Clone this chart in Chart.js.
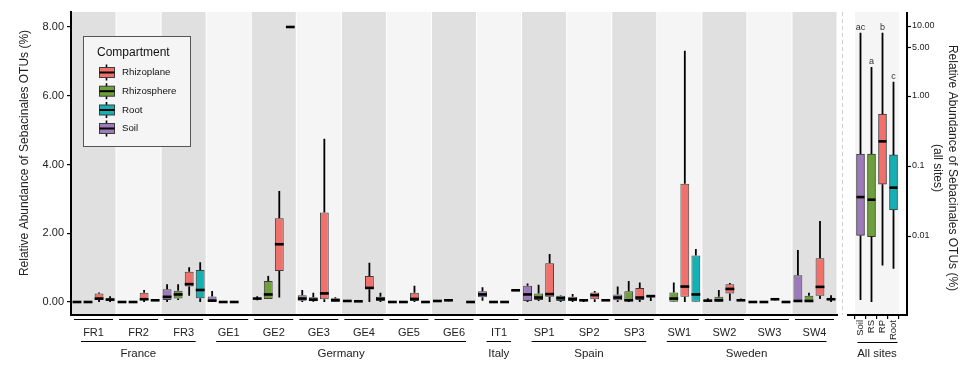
<!DOCTYPE html>
<html>
<head>
<meta charset="utf-8">
<script src="https://cdn.jsdelivr.net/npm/chart.js@4.4.0/dist/chart.umd.min.js"></script>
<style>
  body { margin: 0; background: #fff; }
  #wrap { position: relative; width: 979px; height: 371px; }
  canvas { position: absolute; top: 0; }
  #main { left: 0; }
  #all { left: 845px; }
</style>
</head>
<body>
<div id="wrap">
  <canvas id="main" width="845" height="371"></canvas>
  <canvas id="all" width="134" height="371"></canvas>
</div>
<script>
// sites and countries
var sites = ['FR1','FR2','FR3','GE1','GE2','GE3','GE4','GE5','GE6','IT1','SP1','SP2','SP3','SW1','SW2','SW3','SW4'];
var countryNames = ['France','Germany','Italy','Spain','Sweden'];
var countryFirst = [0, 3, 9, 10, 13];
var countryLast  = [2, 8, 9, 12, 16];

// box stats per site: [min, q1, median, q3, max]
var soil = [
  [0,0,0,0,0], [0,0,0,0,0], [0,0.06,0.15,0.37,0.52],
  [0,0.01,0.04,0.16,0.32], [0.05,0.09,0.1,0.11,0.17], [0,0.04,0.1,0.2,0.35],
  [0.01,0.02,0.03,0.04,0.06], [0,0,0,0,0], [0.01,0.02,0.03,0.04,0.06],
  [0.04,0.14,0.22,0.31,0.43],
  [0,0.03,0.22,0.47,0.54], [0,0.03,0.08,0.15,0.23], [0,0.05,0.13,0.22,0.45],
  null, [0.01,0.02,0.04,0.06,0.11], [0,0,0,0,0], [0,0,0.03,0.78,1.51]
];
var rhizosphere = [
  [0,0,0,0,0], [0,0,0,0,0], [0.06,0.1,0.22,0.33,0.52],
  [0,0,0,0,0], [0.09,0.09,0.22,0.61,0.76], [0,0.02,0.07,0.14,0.27],
  [0,0.01,0.02,0.03,0.04], [0,0,0,0,0], [0.02,0.04,0.05,0.06,0.08],
  [0,0,0,0,0],
  [0.03,0.06,0.13,0.25,0.5], [0,0.04,0.05,0.06,0.08], [0,0.03,0.05,0.31,0.61],
  [0,0.01,0.1,0.28,0.57], [0,0.01,0.05,0.15,0.35], [0,0,0,0,0], [0,0,0.03,0.18,0.27]
];
var rhizoplane = [
  [0,0.06,0.1,0.25,0.28], [0,0.06,0.08,0.27,0.35], [0.18,0.45,0.52,0.88,1.01],
  [0,0,0,0,0], [0.13,0.9,1.68,2.44,3.23], [0,0.08,0.25,2.6,4.75],
  [0,0.37,0.41,0.76,1.14], [0,0.03,0.09,0.27,0.47], null,
  [0,0,0,0,0],
  [0,0.15,0.23,1.13,1.4], [0,0.08,0.2,0.28,0.32], [0,0.06,0.13,0.41,0.57],
  [0,0.15,0.45,3.44,7.31], [0.04,0.25,0.38,0.52,0.55], [0.05,0.07,0.08,0.09,0.11], [0.09,0.18,0.44,1.27,2.36]
];
var root = [
  [0,0.04,0.07,0.11,0.17], [0.04,0.05,0.05,0.05,0.06], [0,0.11,0.35,0.93,1.16],
  null, [8,8,8,8,8], [0,0.01,0.05,0.11,0.14],
  [0,0.03,0.09,0.15,0.27], [0,0,0,0,0], [0,0,0,0,0],
  [0.34,0.34,0.34,0.34,0.34],
  [0,0.03,0.11,0.18,0.2], [0.05,0.05,0.05,0.05,0.05], [0.03,0.14,0.17,0.21,0.21],
  [0,0.01,0.22,1.35,1.54], [0.04,0.05,0.05,0.06,0.1], [0,0,0,0,0], [0,0.06,0.08,0.1,0.2]
];
var yTicks = [0, 2, 4, 6, 8];

// all sites panel (log scale)
var allLabels = ['Soil','RS','RP','Root'];
var allStats = [
  [0.00122, 0.0102, 0.036, 0.148, 8.0],
  [0.00114, 0.0098, 0.033, 0.148, 2.6],
  [0.0038, 0.055, 0.225, 0.55, 8.0],
  [0.0034, 0.0235, 0.049, 0.144, 1.6]
];
var allLetters = ['ac','a','b','c'];
var logTicks = [0.01, 0.1, 1, 5, 10];
var logTickLabels = ['0.01', '0.1', '1.00', '5.00', '10.00'];

var compNames = ['Soil','Rhizosphere','Rhizoplane','Root'];
var compColors = ['#9d7bba', '#6d9f3a', '#f0716b', '#13b1b5'];
var compStats = [soil, rhizosphere, rhizoplane, root];

var FONT = '"Liberation Sans", Arial, Helvetica, sans-serif';
Chart.defaults.font.family = FONT;
Chart.defaults.color = '#222';

// whiskers + median lines on top of the floating bars
function boxPlugin(statsList) {
  return {
    id: 'boxes',
    afterDatasetsDraw: function(chart) {
      var ctx = chart.ctx, y = chart.scales.y;
      ctx.save();
      ctx.strokeStyle = '#000';
      statsList.forEach(function(stats, i) {
        var meta = chart.getDatasetMeta(i);
        stats.forEach(function(s, j) {
          if (!s) return;
          var bar = meta.data[j];
          var x = bar.x, w = bar.width;
          ctx.lineWidth = 1.8;
          ctx.beginPath();
          ctx.moveTo(x, y.getPixelForValue(s[3])); ctx.lineTo(x, y.getPixelForValue(s[4]));
          ctx.moveTo(x, y.getPixelForValue(s[0])); ctx.lineTo(x, y.getPixelForValue(s[1]));
          ctx.stroke();
          var ym = y.getPixelForValue(s[2]);
          ctx.lineWidth = 2.6;
          ctx.beginPath();
          ctx.moveTo(x - w / 2, ym); ctx.lineTo(x + w / 2, ym);
          ctx.stroke();
        });
      });
      ctx.restore();
    }
  };
}

var mainDecor = {
  id: 'mainDecor',
  beforeDraw: function(chart) {
    var ctx = chart.ctx, a = chart.chartArea, x = chart.scales.x;
    ctx.save();
    ctx.fillStyle = '#fff';
    ctx.fillRect(0, 0, chart.width, chart.height);
    var half = (x.getPixelForValue(1) - x.getPixelForValue(0)) / 2;
    sites.forEach(function(s, i) {
      var c = x.getPixelForValue(i);
      ctx.fillStyle = i % 2 ? '#f4f5f4' : '#dfe0df';
      ctx.fillRect(c - half + 0.5, a.top, 2 * half - 1, a.bottom - a.top);
    });
    ctx.restore();
  },
  afterDraw: function(chart) {
    var ctx = chart.ctx, a = chart.chartArea, x = chart.scales.x;
    ctx.save();
    // site strip lines
    ctx.strokeStyle = '#000';
    ctx.lineWidth = 1;
    sites.forEach(function(s, i) {
      var c = x.getPixelForValue(i);
      ctx.beginPath(); ctx.moveTo(c - 19.5, 319.5); ctx.lineTo(c + 19.5, 319.5); ctx.stroke();
    });
    // country lines + names
    ctx.font = '11.5px ' + FONT;
    ctx.fillStyle = '#222';
    ctx.textAlign = 'center';
    ctx.textBaseline = 'middle';
    countryNames.forEach(function(n, k) {
      var x0 = x.getPixelForValue(countryFirst[k]) - 12.5;
      var x1 = x.getPixelForValue(countryLast[k]) + 12;
      ctx.beginPath(); ctx.moveTo(x0, 341.5); ctx.lineTo(x1, 341.5); ctx.stroke();
      ctx.fillText(n, (x0 + x1) / 2, 354);
    });
    // left axis title
    ctx.save();
    ctx.translate(25, 153);
    ctx.rotate(-Math.PI / 2);
    ctx.font = '12px ' + FONT;
    ctx.fillText('Relative Abundance of Sebacinales OTUs (%)', 0, 0);
    ctx.restore();
    // dashed separator
    ctx.strokeStyle = '#cfcfcf';
    ctx.setLineDash([4, 3]);
    ctx.beginPath(); ctx.moveTo(842.5, a.top); ctx.lineTo(842.5, a.bottom); ctx.stroke();
    ctx.setLineDash([]);
    // legend
    ctx.fillStyle = '#f4f5f4';
    ctx.fillRect(83.5, 36.5, 107, 110);
    ctx.strokeStyle = '#555';
    ctx.lineWidth = 1;
    ctx.strokeRect(83.5, 36.5, 107, 110);
    ctx.fillStyle = '#111';
    ctx.textAlign = 'left';
    ctx.font = '12px ' + FONT;
    ctx.fillText('Compartment', 97, 53);
    var order = [2, 1, 3, 0];
    var ys = [72.5, 91.2, 110, 128.5];
    ctx.font = '9.7px ' + FONT;
    order.forEach(function(ci, k) {
      var ly = ys[k];
      ctx.strokeStyle = '#000';
      ctx.lineWidth = 1.6;
      ctx.beginPath(); ctx.moveTo(106.5, ly - 8); ctx.lineTo(106.5, ly + 8); ctx.stroke();
      ctx.fillStyle = compColors[ci];
      ctx.fillRect(99.5, ly - 5, 15, 10);
      ctx.strokeStyle = '#3d3d3d';
      ctx.lineWidth = 1;
      ctx.strokeRect(99.5, ly - 5, 15, 10);
      ctx.strokeStyle = '#000';
      ctx.lineWidth = 2;
      ctx.beginPath(); ctx.moveTo(99.5, ly); ctx.lineTo(114.5, ly); ctx.stroke();
      ctx.fillStyle = '#111';
      ctx.fillText(compNames[ci], 122, ly);
    });
    ctx.restore();
  }
};

new Chart(document.getElementById('main'), {
  type: 'bar',
  data: {
    labels: sites,
    datasets: compStats.map(function(st, i) {
      return {
        label: compNames[i],
        data: st.map(function(s) { return s ? [s[1], s[3]] : null; }),
        backgroundColor: compColors[i],
        borderColor: '#3d3d3d',
        borderWidth: 1,
        borderSkipped: false,
        categoryPercentage: 0.98,
        barPercentage: 0.8
      };
    })
  },
  options: {
    responsive: false,
    animation: false,
    devicePixelRatio: 1,
    layout: { padding: { left: 0, top: 12, right: 8, bottom: 0 } },
    plugins: { legend: { display: false }, tooltip: { enabled: false } },
    scales: {
      x: {
        grid: { display: false, drawTicks: false },
        border: { display: true, color: '#000', width: 2 },
        ticks: { font: { size: 11 }, color: '#222', padding: 11, maxRotation: 0, autoSkip: false },
        afterFit: function(s) { s.height = 56; }
      },
      y: {
        min: -0.378,
        max: 8.436,
        grid: { drawOnChartArea: false, drawTicks: true, tickLength: 4, color: '#000', lineWidth: 1.2 },
        border: { display: true, color: '#000', width: 2 },
        ticks: { font: { size: 11 }, color: '#222', padding: 3,
          callback: function(v) { return Number(v).toFixed(2); } },
        afterBuildTicks: function(s) { s.ticks = yTicks.map(function(v) { return { value: v }; }); },
        afterFit: function(s) { s.width = 71; s.paddingTop = 0; s.paddingBottom = 0; }
      }
    }
  },
  plugins: [mainDecor, boxPlugin(compStats)]
});

var allDecor = {
  id: 'allDecor',
  beforeDraw: function(chart) {
    var ctx = chart.ctx, a = chart.chartArea;
    ctx.save();
    ctx.fillStyle = '#fff';
    ctx.fillRect(0, 0, chart.width, chart.height);
    ctx.fillStyle = '#f4f5f4';
    ctx.fillRect(a.left, a.top, a.right - a.left, a.bottom - a.top);
    ctx.restore();
  },
  afterDraw: function(chart) {
    var ctx = chart.ctx, a = chart.chartArea, y = chart.scales.y, x = chart.scales.x;
    var axX = a.right + 8;
    ctx.save();
    ctx.strokeStyle = '#000';
    ctx.lineWidth = 2;
    ctx.beginPath();
    ctx.moveTo(axX, a.top); ctx.lineTo(axX, a.bottom + 1);
    ctx.moveTo(2, a.bottom); ctx.lineTo(axX + 1, a.bottom);
    ctx.stroke();
    ctx.lineWidth = 1.2;
    logTicks.forEach(function(v) {
      var py = Math.round(y.getPixelForValue(v)) + 0.5;
      ctx.beginPath(); ctx.moveTo(axX, py); ctx.lineTo(axX + 4, py); ctx.stroke();
    });
    // significance letters
    var meta = chart.getDatasetMeta(0);
    ctx.fillStyle = '#333';
    ctx.font = '9px ' + FONT;
    ctx.textAlign = 'center';
    ctx.textBaseline = 'bottom';
    allLetters.forEach(function(t, j) {
      ctx.fillText(t, meta.data[j].x, y.getPixelForValue(allStats[j][4]) - 1);
    });
    // strip
    ctx.lineWidth = 1;
    ctx.beginPath(); ctx.moveTo(x.getPixelForValue(0) - 3, 342.5); ctx.lineTo(x.getPixelForValue(3) + 4, 342.5); ctx.stroke();
    ctx.fillStyle = '#222';
    ctx.textBaseline = 'middle';
    ctx.font = '11.5px ' + FONT;
    ctx.fillText('All sites', (a.left + a.right) / 2, 354);
    // right title
    ctx.save();
    ctx.translate(107, 168);
    ctx.rotate(Math.PI / 2);
    ctx.font = '12px ' + FONT;
    ctx.fillText('Relative Abundance of Sebacinales OTUs (%)', 0, 0);
    ctx.fillText('(all sites)', 0, 15);
    ctx.restore();
    ctx.restore();
  }
};

new Chart(document.getElementById('all'), {
  type: 'bar',
  data: {
    labels: allLabels,
    datasets: [{
      label: 'All sites',
      data: allStats.map(function(s) { return [s[1], s[3]]; }),
      backgroundColor: compColors,
      borderColor: '#3d3d3d',
      borderWidth: 1,
      borderSkipped: false,
      barThickness: 8
    }]
  },
  options: {
    responsive: false,
    animation: false,
    devicePixelRatio: 1,
    layout: { padding: { left: 10, top: 12, right: 0, bottom: 0 } },
    plugins: { legend: { display: false }, tooltip: { enabled: false } },
    scales: {
      x: {
        grid: { display: true, drawOnChartArea: false, drawTicks: true, tickLength: 4, color: '#000', lineWidth: 1.2 },
        border: { display: false },
        ticks: { font: { size: 9.5 }, color: '#222', padding: 1, minRotation: 90, maxRotation: 90, autoSkip: false },
        afterFit: function(s) { s.height = 56; s.paddingLeft = 0; s.paddingRight = 0; }
      },
      y: {
        type: 'logarithmic',
        position: 'right',
        min: 0.000744,
        max: 15.85,
        grid: { display: false, drawTicks: false },
        border: { display: false },
        ticks: { font: { size: 9 }, color: '#222', padding: 13,
          callback: function(v, i) { return logTickLabels[i]; } },
        afterBuildTicks: function(s) { s.ticks = logTicks.map(function(v) { return { value: v }; }); },
        afterFit: function(s) { s.width = 80; s.paddingTop = 0; s.paddingBottom = 0; }
      }
    }
  },
  plugins: [allDecor, boxPlugin([allStats])]
});
</script>
</body>
</html>
